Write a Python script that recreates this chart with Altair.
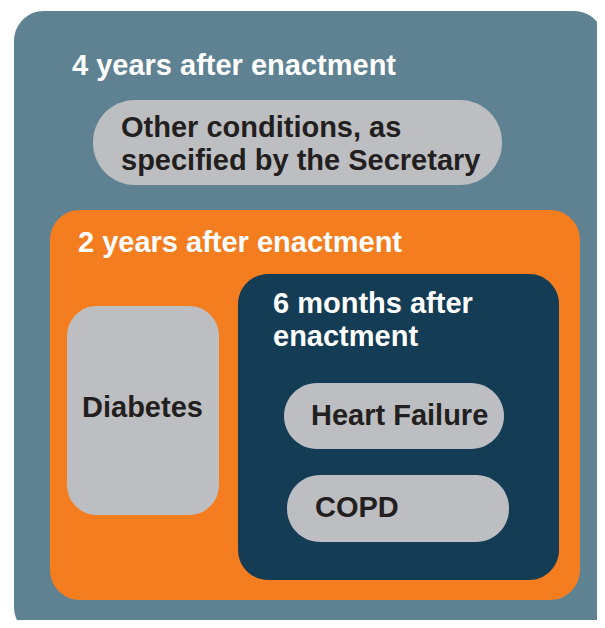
import altair as alt
import pandas as pd

# Diagram boxes (extents in picture units)
box_names = ["4 years", "2 years", "6 months", "Other", "Diabetes", "Heart Failure", "COPD"]
box_kind = ["teal", "orange", "navy", "gray", "gray", "gray", "gray"]
box_x0 = [14, 50, 238, 93, 67, 284, 287]
box_x1 = [604, 580, 559, 502, 219, 504, 509]
box_y0 = [11, 210, 274, 100, 306, 383, 475]
box_y1 = [637, 600, 580, 185, 515, 449, 542]
box_group = ["big", "big", "big", "wide", "big", "pill", "pill"]

# Labels
labels = [
    "4 years after enactment",
    "2 years after enactment",
    "6 months after\nenactment",
    "Other conditions, as\nspecified by the Secretary",
    "Diabetes",
    "Heart Failure",
    "COPD",
]
label_kind = ["light", "light", "light", "dark", "dark", "dark", "dark"]
label_x = [72, 78, 273, 121, 82, 311, 315]
label_y = [75, 252, 313, 137, 417, 425, 517]

boxes = pd.DataFrame({
    "name": box_names, "kind": box_kind, "group": box_group,
    "x0": box_x0, "x1": box_x1, "y0": box_y0, "y1": box_y1,
})
texts = pd.DataFrame({"label": labels, "kind": label_kind, "x": label_x, "y": label_y})

W, H = 589, 612
xs = alt.Scale(domain=[8, 8 + W], range=[0, W], zero=False, nice=False)
ys = alt.Scale(domain=[8, 8 + H], range=[0, H], zero=False, nice=False)

fill_scale = alt.Scale(
    domain=["teal", "orange", "navy", "gray"],
    range=["#5e8292", "#f47d20", "#143c55", "#bdbec1"],
)
text_scale = alt.Scale(domain=["light", "dark"], range=["#ffffff", "#231f20"])

radius = {"big": 30, "wide": 42, "pill": 33}

rect_layers = []
for i, name in enumerate(box_names):
    r = radius[box_group[i]]
    rect_layers.append(
        alt.Chart(boxes).transform_filter(alt.datum.name == name)
        .mark_rect(cornerRadius=r, clip=False)
        .encode(
            x=alt.X("x0:Q", scale=xs, axis=None),
            x2="x1:Q",
            y=alt.Y("y0:Q", scale=ys, axis=None),
            y2="y1:Q",
            color=alt.Color("kind:N", scale=fill_scale, legend=None),
        )
    )

text_layer = alt.Chart(texts).mark_text(
    align="left", baseline="alphabetic", font="Liberation Sans",
    fontWeight="bold", fontSize=29, lineBreak="\n", lineHeight=33, clip=False,
).encode(
    x=alt.X("x:Q", scale=xs, axis=None),
    y=alt.Y("y:Q", scale=ys, axis=None),
    text="label:N",
    color=alt.Color("kind:N", scale=text_scale, legend=None),
)

chart = alt.layer(*rect_layers, text_layer).resolve_scale(color="independent").properties(
    width=W, height=H, padding=0, autosize=alt.AutoSizeParams(type="none"),
).configure_view(stroke=None)

chart.save("out.html", embed_options={"renderer": "svg", "actions": False})
